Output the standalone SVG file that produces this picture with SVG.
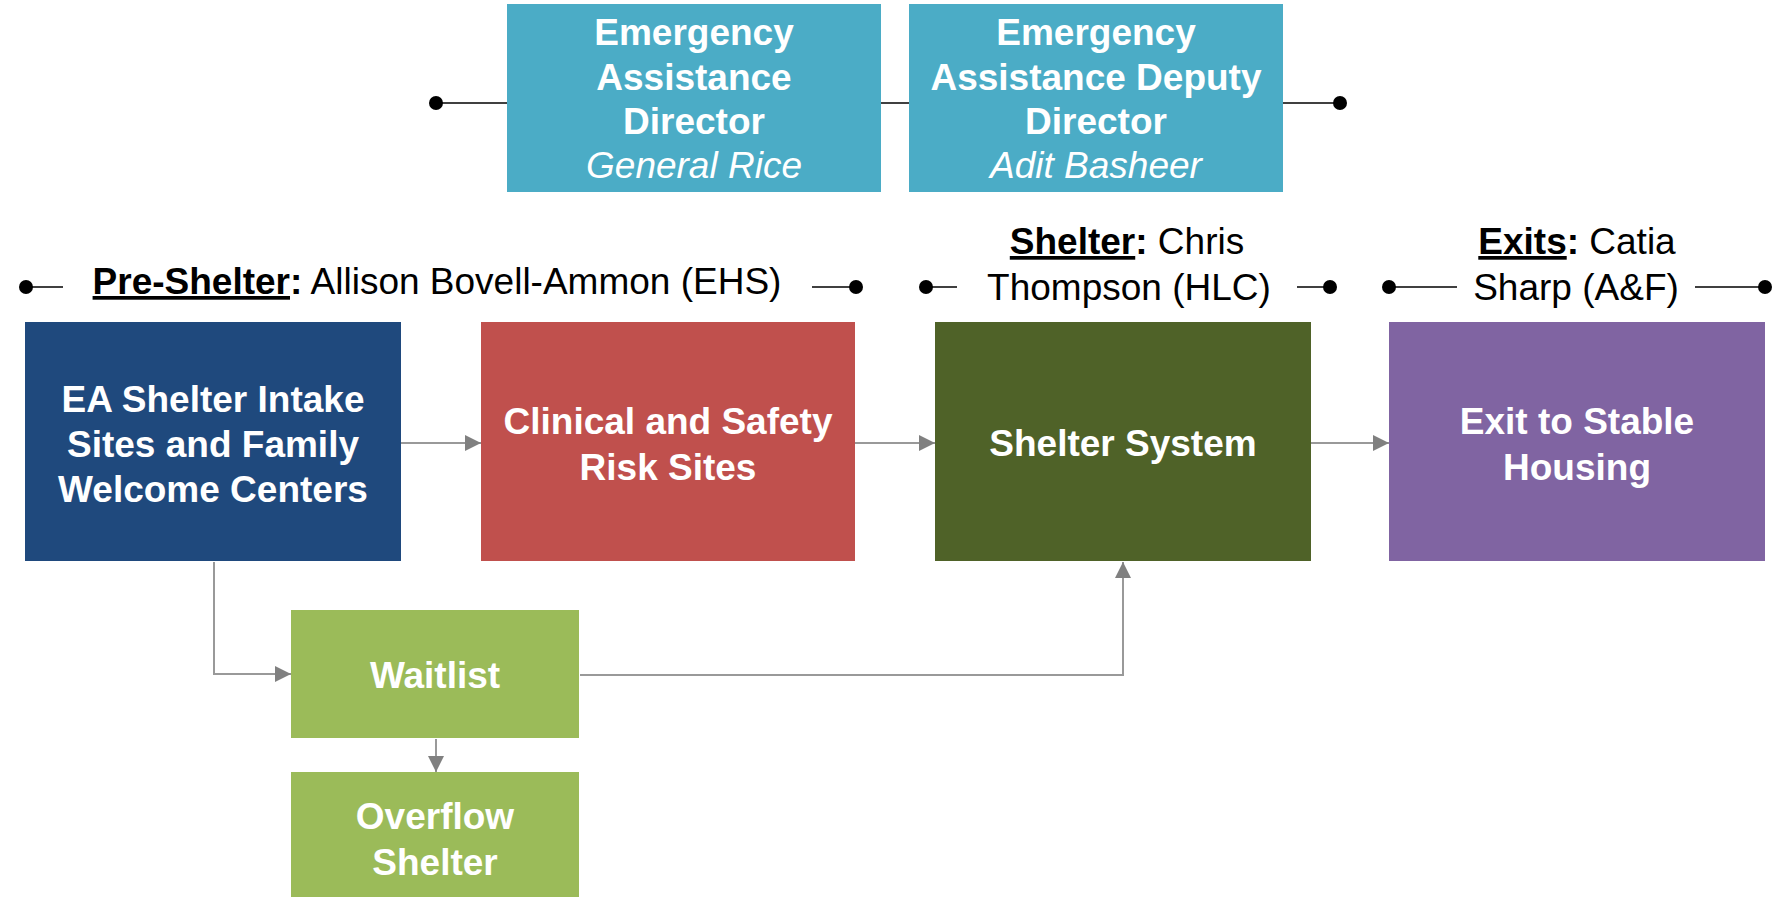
<svg xmlns="http://www.w3.org/2000/svg" width="1780" height="897" viewBox="0 0 1780 897">
<defs>
<style>
.t{font-family:"Liberation Sans",Arial,sans-serif;font-size:37px;fill:#fff;font-weight:bold;text-anchor:middle}
.it{font-weight:normal;font-style:italic}
.h{font-family:"Liberation Sans",Arial,sans-serif;font-size:37px;fill:#000;text-anchor:middle}
.b{font-weight:bold;text-decoration:underline}
.hl{stroke:#404040;stroke-width:2;fill:none}
.dot{fill:#000}
.c{stroke:#999;stroke-width:2;fill:none}
</style>
<marker id="ah" viewBox="0 0 10 10" refX="10" refY="5" markerWidth="16" markerHeight="16" markerUnits="userSpaceOnUse" orient="auto">
<path d="M0,0 L10,5 L0,10 z" fill="#808080"/>
</marker>
</defs>
<rect width="1780" height="897" fill="#fff"/>

<g id="header-lines">
<line class="hl" x1="436" y1="103" x2="507" y2="103"/>
<line class="hl" x1="881" y1="103" x2="909" y2="103"/>
<line class="hl" x1="1283" y1="103" x2="1340" y2="103"/>
<circle class="dot" cx="436" cy="103" r="7"/>
<circle class="dot" cx="1340" cy="103" r="7"/>
<line class="hl" x1="26" y1="287" x2="63" y2="287"/>
<line class="hl" x1="812" y1="287" x2="856" y2="287"/>
<circle class="dot" cx="26" cy="287" r="7"/>
<circle class="dot" cx="856" cy="287" r="7"/>
<line class="hl" x1="926" y1="287" x2="957" y2="287"/>
<line class="hl" x1="1297" y1="287" x2="1330" y2="287"/>
<circle class="dot" cx="926" cy="287" r="7"/>
<circle class="dot" cx="1330" cy="287" r="7"/>
<line class="hl" x1="1389" y1="287" x2="1457" y2="287"/>
<line class="hl" x1="1695" y1="287" x2="1765" y2="287"/>
<circle class="dot" cx="1389" cy="287" r="7"/>
<circle class="dot" cx="1765" cy="287" r="7"/>
</g>

<g id="director">
<rect x="507" y="4" width="374" height="188" fill="#4BACC6"/>
<text class="t" x="694" y="45">Emergency</text>
<text class="t" x="694" y="90">Assistance</text>
<text class="t" x="694" y="134">Director</text>
<text class="t it" x="694" y="178">General Rice</text>
</g>

<g id="deputy">
<rect x="909" y="4" width="374" height="188" fill="#4BACC6"/>
<text class="t" x="1096" y="45">Emergency</text>
<text class="t" x="1096" y="90">Assistance Deputy</text>
<text class="t" x="1096" y="134">Director</text>
<text class="t it" x="1096" y="178">Adit Basheer</text>
</g>

<g id="label-preshelter">
<text class="h" x="437" y="294"><tspan class="b">Pre-Shelter</tspan><tspan font-weight="bold">:</tspan> Allison Bovell-Ammon (EHS)</text>
</g>
<g id="label-shelter">
<text class="h" x="1127" y="254"><tspan class="b">Shelter</tspan><tspan font-weight="bold">:</tspan> Chris</text>
<text class="h" x="1129" y="300">Thompson (HLC)</text>
</g>
<g id="label-exits">
<text class="h" x="1577" y="254"><tspan class="b">Exits</tspan><tspan font-weight="bold">:</tspan> Catia</text>
<text class="h" x="1576" y="300">Sharp (A&amp;F)</text>
</g>

<g id="intake">
<rect x="25" y="322" width="376" height="239" fill="#1F497D"/>
<text class="t" x="213" y="412">EA Shelter Intake</text>
<text class="t" x="213" y="457">Sites and Family</text>
<text class="t" x="213" y="502">Welcome Centers</text>
</g>

<g id="clinical">
<rect x="481" y="322" width="374" height="239" fill="#C0504D"/>
<text class="t" x="668" y="434">Clinical and Safety</text>
<text class="t" x="668" y="480">Risk Sites</text>
</g>

<g id="shelter">
<rect x="935" y="322" width="376" height="239" fill="#4F6228"/>
<text class="t" x="1123" y="456">Shelter System</text>
</g>

<g id="exit">
<rect x="1389" y="322" width="376" height="239" fill="#8064A2"/>
<text class="t" x="1577" y="434">Exit to Stable</text>
<text class="t" x="1577" y="480">Housing</text>
</g>

<g id="waitlist">
<rect x="291" y="610" width="288" height="128" fill="#9BBB59"/>
<text class="t" x="435" y="688">Waitlist</text>
</g>

<g id="overflow">
<rect x="291" y="772" width="288" height="125" fill="#9BBB59"/>
<text class="t" x="435" y="829">Overflow</text>
<text class="t" x="435" y="875">Shelter</text>
</g>

<g id="connectors">
<line class="c" x1="401" y1="443" x2="481" y2="443" marker-end="url(#ah)"/>
<line class="c" x1="855" y1="443" x2="935" y2="443" marker-end="url(#ah)"/>
<line class="c" x1="1311" y1="443" x2="1389" y2="443" marker-end="url(#ah)"/>
<polyline class="c" points="214,562 214,674 291,674" marker-end="url(#ah)"/>
<line class="c" x1="436" y1="739" x2="436" y2="772" marker-end="url(#ah)"/>
<polyline class="c" points="580,675 1123,675 1123,562" marker-end="url(#ah)"/>
</g>
</svg>
